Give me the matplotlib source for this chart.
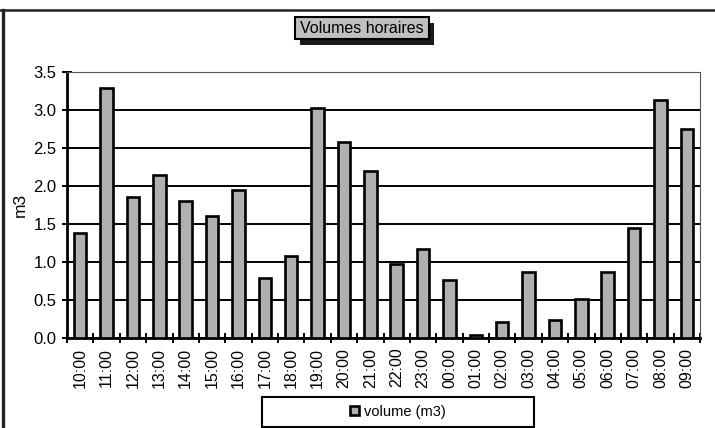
import matplotlib
matplotlib.use("Agg")
from matplotlib import pyplot as plt
from matplotlib.patches import Rectangle
from matplotlib.lines import Line2D
import numpy as np

plt.rcParams['font.family'] = ['Liberation Sans', 'DejaVu Sans']

# Volumes horaires relevés sur 24 h
heures = ["10:00", "11:00", "12:00", "13:00", "14:00", "15:00", "16:00", "17:00",
          "18:00", "19:00", "20:00", "21:00", "22:00", "23:00", "00:00", "01:00",
          "02:00", "03:00", "04:00", "05:00", "06:00", "07:00", "08:00", "09:00"]
volumes = [1.38, 3.29, 1.85, 2.14, 1.80, 1.60, 1.95, 0.79,
           1.08, 3.03, 2.58, 2.20, 0.98, 1.17, 0.76, 0.04,
           0.21, 0.87, 0.24, 0.51, 0.87, 1.45, 3.13, 2.75]
graduations = [0.0, 0.5, 1.0, 1.5, 2.0, 2.5, 3.0, 3.5]

W, H = 715, 428


def px(x, y):
    """Convertit des pixels (origine en haut à gauche) en coordonnées figure"""
    return x / W, 1 - y / H


fig = plt.figure(figsize=(W / 100, H / 100), dpi=100)
ax = fig.add_axes([67 / W, 1 - 338 / H, (700 - 67) / W, (338 - 72) / H])

x = np.arange(len(heures))
barres = ax.bar(x, volumes, width=0.47, color='#b0b0b0', edgecolor='black',
                linewidth=1.9, zorder=3, label='volume (m3)')

ax.set_xlim(-0.5, len(heures) - 0.5)
ax.set_ylim(0, 3.5)
ax.set_yticks(graduations)
ax.set_yticklabels([f"{g:.1f}" for g in graduations], fontsize=12)
ax.yaxis.grid(True, color='black', linewidth=1.4, zorder=1)
ax.set_axisbelow(True)

ax.set_xticks(x)
ax.set_xticklabels(heures, rotation=90, fontsize=11.5)
ax.set_xticks(np.arange(-0.5, len(heures)), minor=True)
ax.tick_params(axis='x', which='major', length=0, pad=7)
ax.tick_params(axis='x', which='minor', direction='inout', length=7, width=1.4)
ax.tick_params(axis='y', direction='inout', length=7, width=1.4, pad=4)

ax.set_ylabel("m3", fontsize=12.5, labelpad=4)

for cote in ['left', 'bottom']:
    ax.spines[cote].set_linewidth(2.0)
for cote in ['top', 'right']:
    ax.spines[cote].set_linewidth(0.8)
    ax.spines[cote].set_color('#555555')

# cadre de la zone de graphique
fig.add_artist(Line2D([0, 1], [px(0, 10)[1]] * 2, color='#222222', linewidth=1.8))
fig.add_artist(Line2D([px(3, 0)[0]] * 2, [0, px(0, 10)[1]], color='#222222', linewidth=2.4))

# titre dans un encadré gris avec ombre
x0, y0 = px(295, 39)
larg, haut = 134 / W, 22 / H
fig.add_artist(Rectangle((x0 + 5 / W, y0 - 6 / H), larg, haut, transform=fig.transFigure,
                         facecolor='#1a1a1a', edgecolor='none'))
fig.add_artist(Rectangle((x0, y0), larg, haut, transform=fig.transFigure,
                         facecolor='#c0c0c0', edgecolor='black', linewidth=1.5))
fig.text(*px(362, 28.5), "Volumes horaires", ha='center', va='center', fontsize=11.5)

# légende encadrée sous le graphique
lx, ly = px(262, 427)
fig.add_artist(Rectangle((lx, ly), 272 / W, 30 / H, transform=fig.transFigure,
                         facecolor='white', edgecolor='black', linewidth=1.5))
fig.legend(handles=[barres], labels=['volume (m3)'], loc='center',
           bbox_to_anchor=px(398, 412), frameon=False, fontsize=10.5,
           handlelength=0.6, handleheight=0.6, handletextpad=0.4)

fig.savefig("out.png", dpi=100)
